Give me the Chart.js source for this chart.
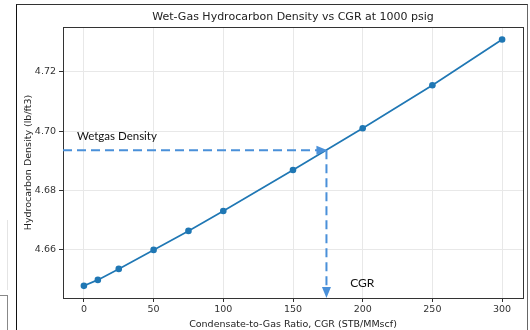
<!DOCTYPE html>
<html>
<head>
<meta charset="utf-8">
<script src="https://cdn.jsdelivr.net/npm/chart.js@4.4.1/dist/chart.umd.min.js"></script>
<style>
    html, body { margin: 0; padding: 0; background: #fff; }
    #wrap { position: relative; width: 530px; height: 330px; overflow: hidden; }
    #chart { position: absolute; left: 0; top: 0; }
    .frame { position: absolute; left: 16px; top: 4px; width: 510px; height: 340px;
             border-left: 1.5px solid #111; border-top: 1px solid #333; border-right: 1px solid #666; }
    .frag1 { position: absolute; left: 7px; top: 220px; width: 0; height: 70px; border-left: 1px solid #e4e4e4; }
    .frag2 { position: absolute; left: -2px; top: 295px; width: 9px; height: 40px;
             border-top: 1px solid #888; border-right: 1px solid #888; }
</style>
</head>
<body>
<div id="wrap">
    <canvas id="chart" width="530" height="330"></canvas>
    <div class="frame"></div>
    <div class="frag1"></div>
    <div class="frag2"></div>
</div>
<script>
// Data
const cgrValues = [0, 10, 25, 50, 75, 100, 150, 200, 250, 300];
const densityValues = [4.6479, 4.6499, 4.6536, 4.6600, 4.6664, 4.6731, 4.6869, 4.7010, 4.7155, 4.7309];
const xTicks = [0, 50, 100, 150, 200, 250, 300];
const yTicks = [4.66, 4.68, 4.70, 4.72];

// Read-off guide (dashed arrows) and its labels
const readCgr = 174;
const readDensity = 4.6936;
const densityLabel = { text: 'Wetgas Density', x: -5, y: 4.6983 };
const cgrLabel = { text: 'CGR', x: 191, y: 4.6489 };

const titleText = 'Wet-Gas Hydrocarbon Density vs CGR at 1000 psig';
const lineColor = '#1f77b4';
const guideColor = '#4a90d9';

const points = cgrValues.map((x, i) => ({ x: x, y: densityValues[i] }));

// Plot box, title, dashed guides and texts
const extrasPlugin = {
    id: 'extras',
    beforeDatasetsDraw(chart) {
        const ctx = chart.ctx;
        const a = chart.chartArea;
        ctx.save();
        ctx.strokeStyle = '#333';
        ctx.lineWidth = 1;
        ctx.strokeRect(Math.round(a.left) + 0.5, Math.round(a.top) + 0.5,
            Math.round(a.right - a.left), Math.round(a.bottom - a.top));
        ctx.restore();
    },
    afterDatasetsDraw(chart) {
        const ctx = chart.ctx;
        const a = chart.chartArea;
        const xs = chart.scales.x;
        const ys = chart.scales.y;
        const px = xs.getPixelForValue(readCgr);
        const py = ys.getPixelForValue(readDensity);

        ctx.save();
        ctx.strokeStyle = guideColor;
        ctx.fillStyle = guideColor;
        ctx.lineWidth = 2;
        ctx.setLineDash([9, 5]);
        // horizontal guide
        ctx.beginPath();
        ctx.moveTo(a.left, py);
        ctx.lineTo(px - 8, py);
        ctx.stroke();
        // vertical guide
        ctx.beginPath();
        ctx.moveTo(px, py);
        ctx.lineTo(px, a.bottom - 8);
        ctx.stroke();
        ctx.setLineDash([]);
        // arrow heads
        ctx.beginPath();
        ctx.moveTo(px + 1, py);
        ctx.lineTo(px - 10, py - 4.5);
        ctx.lineTo(px - 10, py + 4.5);
        ctx.closePath();
        ctx.fill();
        ctx.beginPath();
        ctx.moveTo(px, a.bottom);
        ctx.lineTo(px - 4.5, a.bottom - 11);
        ctx.lineTo(px + 4.5, a.bottom - 11);
        ctx.closePath();
        ctx.fill();

        // labels
        ctx.fillStyle = '#111';
        ctx.font = '11.5px Lato';
        ctx.textBaseline = 'middle';
        ctx.textAlign = 'left';
        ctx.fillText(densityLabel.text, xs.getPixelForValue(densityLabel.x), ys.getPixelForValue(densityLabel.y));
        ctx.font = '12px Lato';
        ctx.fillText(cgrLabel.text, xs.getPixelForValue(cgrLabel.x), ys.getPixelForValue(cgrLabel.y));

        // title centred over the plot area
        ctx.font = '11px "DejaVu Sans"';
        ctx.textAlign = 'center';
        ctx.fillStyle = '#222';
        ctx.fillText(titleText, (a.left + a.right) / 2, 17.5);
        ctx.restore();
    }
};

const ctx = document.getElementById('chart').getContext('2d');
new Chart(ctx, {
    type: 'line',
    data: {
        datasets: [{
            data: points,
            borderColor: lineColor,
            backgroundColor: lineColor,
            borderWidth: 1.7,
            pointRadius: 3.3,
            pointBorderWidth: 0,
            tension: 0,
            fill: false
        }]
    },
    options: {
        responsive: false,
        animation: false,
        layout: { padding: { left: 16, right: 7, top: 27, bottom: 0 } },
        plugins: {
            legend: { display: false },
            tooltip: { enabled: false },
            title: { display: false }
        },
        scales: {
            x: {
                type: 'linear',
                min: -15,
                max: 315,
                afterBuildTicks: scale => { scale.ticks = xTicks.map(v => ({ value: v })); },
                afterFit: scale => { scale.height = 32; },
                border: { display: false },
                grid: { color: '#e8e8e8', tickColor: '#333', tickLength: 4, lineWidth: 1 },
                ticks: {
                    color: '#333',
                    font: { family: 'DejaVu Sans', size: 9.5 },
                    padding: 2,
                    maxRotation: 0,
                    callback: v => String(v)
                },
                title: {
                    display: true,
                    text: 'Condensate-to-Gas Ratio, CGR (STB/MMscf)',
                    color: '#222',
                    font: { family: 'DejaVu Sans', size: 9.5 },
                    padding: { top: 1, bottom: 0 }
                }
            },
            y: {
                type: 'linear',
                min: 4.6438,
                max: 4.7351,
                afterBuildTicks: scale => { scale.ticks = yTicks.map(v => ({ value: v })); },
                afterFit: scale => { scale.width = 47; },
                border: { display: false },
                grid: { color: '#e8e8e8', tickColor: '#333', tickLength: 4, lineWidth: 1 },
                ticks: {
                    color: '#333',
                    font: { family: 'DejaVu Sans', size: 9.5 },
                    padding: 3,
                    callback: v => v.toFixed(2)
                },
                title: {
                    display: true,
                    text: 'Hydrocarbon Density (lb/ft3)',
                    color: '#222',
                    font: { family: 'DejaVu Sans', size: 9.5 },
                    padding: { top: 7, bottom: 0 }
                }
            }
        }
    },
    plugins: [extrasPlugin]
});
</script>
</body>
</html>
